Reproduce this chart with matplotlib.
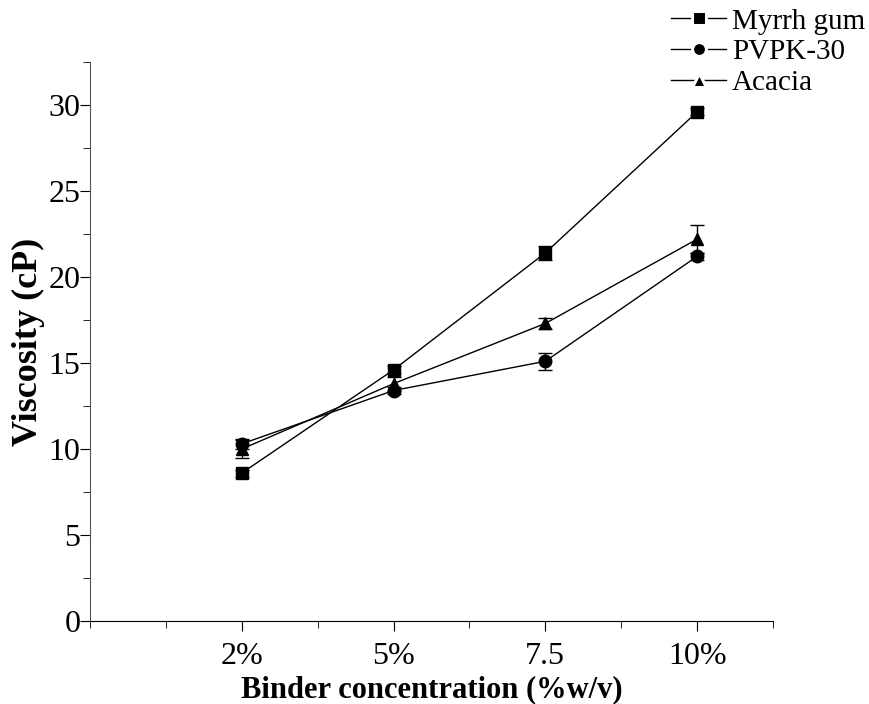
import matplotlib
matplotlib.use("Agg")
import matplotlib.pyplot as plt
from matplotlib.ticker import MultipleLocator
from matplotlib.lines import Line2D

plt.rcParams['font.family'] = ['Liberation Serif', 'DejaVu Serif']

categories = ["2%", "5%", "7.5", "10%"]
series_names = ["Myrrh gum", "PVPK-30", "Acacia"]
myrrh = [8.6, 14.6, 21.4, 29.6]
myrrh_err = [0.2, 0.2, 0.4, 0.2]
pvpk = [10.3, 13.4, 15.1, 21.2]
pvpk_err = [0.3, 0.2, 0.5, 0.2]
acacia = [10.0, 13.8, 17.3, 22.2]
acacia_err = [0.5, 0.4, 0.3, 0.8]

fig = plt.figure(figsize=(8.7, 7.04), dpi=100)
ax = fig.add_axes([90/870, 1-621/704, 683/870, (621-62)/704])

x = [1, 2, 3, 4]
markers = ['s', 'o', '^']
kw = dict(color='black', lw=1, capsize=5, elinewidth=1, capthick=1, markersize=9)
for vals, errs, m, name in zip([myrrh, pvpk, acacia], [myrrh_err, pvpk_err, acacia_err], markers, series_names):
    ax.errorbar(x, vals, yerr=errs, marker=m, label=name, **kw)

ax.set_xlim(0, 4.5)
ax.set_ylim(0, 32.5)
ax.set_xticks(x)
ax.set_xticklabels(categories)
ax.xaxis.set_minor_locator(MultipleLocator(0.5))
ax.yaxis.set_major_locator(MultipleLocator(5))
ax.yaxis.set_minor_locator(MultipleLocator(2.5))
for s in ['top', 'right']:
    ax.spines[s].set_visible(False)
ax.spines['left'].set_color('#555555')
ax.spines['bottom'].set_color('black')
ax.tick_params(axis='both', which='major', length=7, labelsize=23, direction='out')
ax.tick_params(axis='both', which='minor', length=5, direction='out')
ax.tick_params(axis='x', which='both', pad=8)
ax.tick_params(axis='y', which='both', pad=0)
ax.set_xlabel('Binder concentration (%w/v)', fontsize=22, fontweight='bold', labelpad=3)
ax.set_ylabel('Viscosity (cP)', fontsize=26, fontweight='bold', labelpad=2)

handles = [Line2D([], [], color='black', lw=1, marker=m, markersize=10,
                  markeredgecolor='white', markeredgewidth=2.2) for m in markers]
fig.legend(handles, series_names, loc='upper right', bbox_to_anchor=(1.008, 1.005), frameon=False,
           fontsize=21, handlelength=1.9, handletextpad=0.2,
           labelspacing=0.15, borderaxespad=0.0)
fig.savefig('out.png', dpi=100)
